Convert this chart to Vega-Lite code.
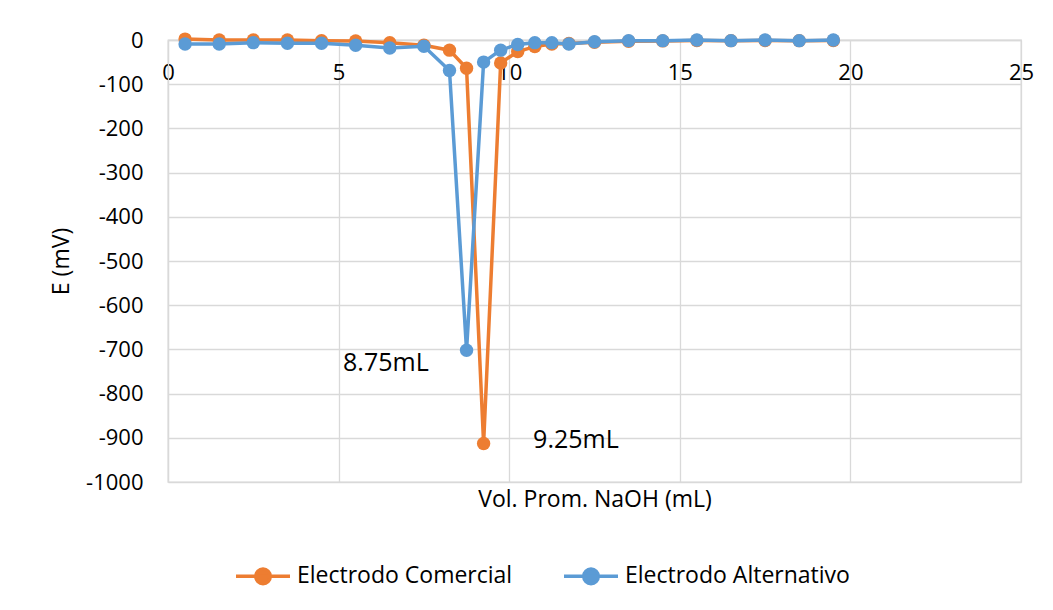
{
  "$schema": "https://vega.github.io/schema/vega-lite/v6.json",
  "width": 853,
  "height": 442,
  "autosize": "none",
  "padding": {"left": 168, "top": 40, "right": 32, "bottom": 128},
  "background": "white",
  "config": {
    "font": "Open Sans",
    "view": {"stroke": "#d9d9d9", "strokeWidth": 1.3},
    "axis": {"labelFont": "Open Sans", "titleFont": "Open Sans", "labelColor": "#000000", "titleColor": "#000000", "titleFontWeight": "normal", "gridColor": "#d9d9d9", "gridWidth": 1.3, "domainColor": "#d9d9d9", "domainWidth": 1.3, "ticks": false, "tickSize": 0},
    "legend": {"labelFont": "Open Sans", "labelColor": "#000000"}
  },
  "datasets": {
    "series": [
      {"vol": 0.5, "E": 2, "electrodo": "Electrodo Comercial"},
      {"vol": 1.5, "E": 0, "electrodo": "Electrodo Comercial"},
      {"vol": 2.5, "E": 0, "electrodo": "Electrodo Comercial"},
      {"vol": 3.5, "E": 0, "electrodo": "Electrodo Comercial"},
      {"vol": 4.5, "E": -1.5, "electrodo": "Electrodo Comercial"},
      {"vol": 5.5, "E": -2, "electrodo": "Electrodo Comercial"},
      {"vol": 6.5, "E": -6, "electrodo": "Electrodo Comercial"},
      {"vol": 7.5, "E": -12, "electrodo": "Electrodo Comercial"},
      {"vol": 8.25, "E": -23, "electrodo": "Electrodo Comercial"},
      {"vol": 8.75, "E": -64, "electrodo": "Electrodo Comercial"},
      {"vol": 9.25, "E": -913, "electrodo": "Electrodo Comercial"},
      {"vol": 9.75, "E": -52, "electrodo": "Electrodo Comercial"},
      {"vol": 10.25, "E": -26, "electrodo": "Electrodo Comercial"},
      {"vol": 10.75, "E": -15, "electrodo": "Electrodo Comercial"},
      {"vol": 11.25, "E": -9, "electrodo": "Electrodo Comercial"},
      {"vol": 11.75, "E": -8, "electrodo": "Electrodo Comercial"},
      {"vol": 12.5, "E": -5, "electrodo": "Electrodo Comercial"},
      {"vol": 13.5, "E": -3, "electrodo": "Electrodo Comercial"},
      {"vol": 14.5, "E": -2, "electrodo": "Electrodo Comercial"},
      {"vol": 15.5, "E": -1, "electrodo": "Electrodo Comercial"},
      {"vol": 16.5, "E": -1.5, "electrodo": "Electrodo Comercial"},
      {"vol": 17.5, "E": -1, "electrodo": "Electrodo Comercial"},
      {"vol": 18.5, "E": -1.5, "electrodo": "Electrodo Comercial"},
      {"vol": 19.5, "E": -1, "electrodo": "Electrodo Comercial"},
      {"vol": 0.5, "E": -9, "electrodo": "Electrodo Alternativo"},
      {"vol": 1.5, "E": -9, "electrodo": "Electrodo Alternativo"},
      {"vol": 2.5, "E": -6, "electrodo": "Electrodo Alternativo"},
      {"vol": 3.5, "E": -7.5, "electrodo": "Electrodo Alternativo"},
      {"vol": 4.5, "E": -7.5, "electrodo": "Electrodo Alternativo"},
      {"vol": 5.5, "E": -12, "electrodo": "Electrodo Alternativo"},
      {"vol": 6.5, "E": -18, "electrodo": "Electrodo Alternativo"},
      {"vol": 7.5, "E": -14, "electrodo": "Electrodo Alternativo"},
      {"vol": 8.25, "E": -69, "electrodo": "Electrodo Alternativo"},
      {"vol": 8.75, "E": -702, "electrodo": "Electrodo Alternativo"},
      {"vol": 9.25, "E": -50, "electrodo": "Electrodo Alternativo"},
      {"vol": 9.75, "E": -23, "electrodo": "Electrodo Alternativo"},
      {"vol": 10.25, "E": -10, "electrodo": "Electrodo Alternativo"},
      {"vol": 10.75, "E": -6, "electrodo": "Electrodo Alternativo"},
      {"vol": 11.25, "E": -6, "electrodo": "Electrodo Alternativo"},
      {"vol": 11.75, "E": -9, "electrodo": "Electrodo Alternativo"},
      {"vol": 12.5, "E": -4, "electrodo": "Electrodo Alternativo"},
      {"vol": 13.5, "E": -1.5, "electrodo": "Electrodo Alternativo"},
      {"vol": 14.5, "E": -1.5, "electrodo": "Electrodo Alternativo"},
      {"vol": 15.5, "E": 0, "electrodo": "Electrodo Alternativo"},
      {"vol": 16.5, "E": -1.5, "electrodo": "Electrodo Alternativo"},
      {"vol": 17.5, "E": 0, "electrodo": "Electrodo Alternativo"},
      {"vol": 18.5, "E": -1.5, "electrodo": "Electrodo Alternativo"},
      {"vol": 19.5, "E": 0, "electrodo": "Electrodo Alternativo"}
    ],
    "notes": [
      {"vol": 5.13, "E": -731, "label": "8.75mL"},
      {"vol": 10.7, "E": -905, "label": "9.25mL"}
    ]
  },
  "encoding": {
    "x": {
      "field": "vol", "type": "quantitative",
      "scale": {"domain": [0, 25], "nice": false, "zero": false},
      "axis": {"orient": "bottom", "offset": -442, "values": [0, 5, 10, 15, 20, 25], "labelFontSize": 22, "labelPadding": 22, "labelBaseline": "top", "labelFlush": false, "labelOverlap": false, "title": "Vol. Prom. NaOH (mL)", "titleFontSize": 23, "titleY": 448, "titleBaseline": "top", "grid": true}
    },
    "y": {
      "field": "E", "type": "quantitative",
      "scale": {"domain": [-1000, 0], "nice": false, "zero": false},
      "axis": {"values": [0, -100, -200, -300, -400, -500, -600, -700, -800, -900, -1000], "labelExpr": "datum.value == 0 ? '0' : '-' + abs(datum.value)", "labelFontSize": 22, "labelPadding": 25, "labelFlush": false, "labelOverlap": false, "title": "E (mV)", "titleFontSize": 23, "titlePadding": 12, "grid": true}
    },
    "color": {
      "field": "electrodo", "type": "nominal",
      "scale": {"domain": ["Electrodo Comercial", "Electrodo Alternativo"], "range": ["#ED7D31", "#5B9BD5"]},
      "legend": {
        "orient": "none", "legendX": 66, "legendY": 507, "direction": "horizontal", "title": null, "padding": 0,
        "symbolType": "M-1,0L1,0M0.27,0A0.27,0.27,0,1,1,-0.27,0A0.27,0.27,0,1,1,0.27,0Z",
        "symbolSize": 2916, "symbolStrokeWidth": 3.5, "symbolOpacity": 1,
        "labelFontSize": 23, "labelOffset": 5, "labelLimit": 0, "columnPadding": 44,
        "encode": {"symbols": {"update": {"fill": {"field": "value", "scale": "color"}, "stroke": {"field": "value", "scale": "color"}, "strokeWidth": {"value": 3.5}, "opacity": {"value": 1}}}}
      }
    }
  },
  "layer": [
    {
      "data": {"name": "series"},
      "transform": [{"filter": "datum.electrodo === 'Electrodo Comercial'"}],
      "layer": [
        {"mark": {"type": "line", "strokeWidth": 3.5, "clip": false}},
        {"mark": {"type": "point", "filled": true, "size": 180, "opacity": 1, "clip": false}}
      ]
    },
    {
      "data": {"name": "series"},
      "transform": [{"filter": "datum.electrodo === 'Electrodo Alternativo'"}],
      "layer": [
        {"mark": {"type": "line", "strokeWidth": 3.5, "clip": false}},
        {"mark": {"type": "point", "filled": true, "size": 180, "opacity": 1, "clip": false}}
      ]
    },
    {
      "data": {"name": "notes"},
      "mark": {"type": "text", "align": "left", "baseline": "middle", "fontSize": 25, "font": "Open Sans", "color": "#000000"},
      "encoding": {"text": {"field": "label", "type": "nominal"}, "color": null}
    }
  ]
}
